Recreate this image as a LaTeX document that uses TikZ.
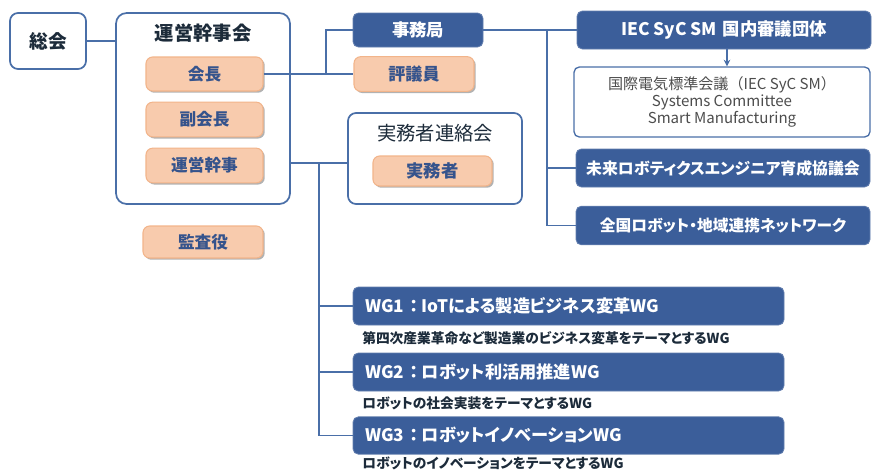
\documentclass[tikz,border=0pt]{standalone}
\usepackage{fontspec}
\newfontfamily\jp[RawFeature=+palt]{Noto Sans CJK JP}
\newfontfamily\jpw{Noto Sans CJK JP}
\usetikzlibrary{shadows,arrows.meta}
\definecolor{dblue}{HTML}{3B5E9A}
\definecolor{lblue}{HTML}{4A6FA8}
\definecolor{peach}{HTML}{F8CBAD}
\definecolor{peachline}{HTML}{F2B48A}
\definecolor{peachtxt}{HTML}{35538C}
\definecolor{titledark}{HTML}{1C2B3A}
\definecolor{graytxt}{HTML}{4D4D4D}
\tikzset{
  wbox/.style={draw=lblue, line width=1.3pt, fill=white, rounded corners=6pt, inner sep=0pt},
  pbox/.style={draw=peachline, line width=0.8pt, fill=peach, rounded corners=5pt, inner sep=0pt,
    text=peachtxt, font=\jp\bfseries\fontsize{12.5}{14}\selectfont,
    drop shadow={shadow xshift=1.3pt, shadow yshift=-1.3pt, opacity=0.3, fill=black}},
  bbox/.style={draw=dblue!80!white, line width=0.6pt, fill=dblue, rounded corners=4pt, inner sep=0pt,
    text=white, font=\jp\bfseries\fontsize{13}{15}\selectfont},
  conn/.style={draw=lblue, line width=1.2pt},
  lbl/.style={inner sep=0pt},
}
\begin{document}
\begin{tikzpicture}[x=0.75pt,y=-0.75pt]
\useasboundingbox (0,0) rectangle (872,475);
% left side
\node[wbox, minimum width=57pt, minimum height=42pt, text=titledark, font=\jp\bfseries\fontsize{14}{16}\selectfont] (soukai) at (48,41) {総会};
\node[wbox, rounded corners=8pt, minimum width=130.5pt, minimum height=143.25pt] (unei) at (203,108.5) {};
\node[lbl, text=titledark, font=\jp\bfseries\fontsize{14.5}{16}\selectfont] (ueititle) at (203,33) {運営幹事会};
\node[pbox, minimum width=87.75pt, minimum height=25.5pt] (kaicho) at (204.5,74) {会長};
\node[pbox, minimum width=87.75pt, minimum height=26pt] (fuku) at (204.5,119.5) {副会長};
\node[pbox, minimum width=87.75pt, minimum height=26pt] (kanji) at (204.5,165.5) {運営幹事};
\node[pbox, minimum width=90pt, minimum height=24pt] (kansa) at (203,242) {監査役};
% middle
\node[bbox, minimum width=97.5pt, minimum height=25.5pt] (jimu) at (418,30) {事務局};
\node[pbox, minimum width=90pt, minimum height=26pt, font=\jp\bfseries\fontsize{12.8}{14}\selectfont] (hyogi) at (414,74) {評議員};
\node[wbox, minimum width=130.5pt, minimum height=68.25pt] (renraku) at (435,158.5) {};
\node[lbl, text=titledark, font=\jp\fontsize{14.5}{16}\selectfont] (rentitle) at (435,133) {実務者連絡会};
\node[pbox, minimum width=89.25pt, minimum height=22.5pt, font=\jp\bfseries\fontsize{13}{15}\selectfont] (jitsu) at (432.5,171) {実務者};
% right
\node[bbox, minimum width=220.5pt, minimum height=28.5pt] (iec) at (724,30) {IEC SyC SM\,\,国内審議団体};
\node[draw=lblue, line width=1pt, fill=white, rounded corners=4pt, inner sep=0pt,
  minimum width=222pt, minimum height=52.5pt, align=center, text=graytxt,
  font=\jp\fontsize{11.3}{13}\selectfont] (iecw) at (722,102)
  {国際電気標準会議{\jpw （}IEC SyC SM{\jpw ）}\\Systems Committee\\Smart Manufacturing};
\node[bbox, minimum width=220.5pt, minimum height=28.5pt, font=\jp\bfseries\fontsize{11.9}{14}\selectfont] (mirai) at (723,168) {未来ロボティクスエンジニア育成協議会};
\node[bbox, minimum width=220.5pt, minimum height=29pt, font=\jp\bfseries\fontsize{11.8}{14}\selectfont] (zenkoku) at (723,225.5) {全国ロボット・地域連携ネットワーク};
% WGs
\node[bbox, minimum width=323.25pt, minimum height=28.5pt] (wg1) at (568.5,306) {};
\node[bbox, minimum width=323.25pt, minimum height=28.5pt] (wg2) at (568.5,372) {};
\node[bbox, minimum width=323.25pt, minimum height=28pt] (wg3) at (568.5,435.5) {};
\tikzset{wgt/.style={lbl, anchor=west, text=white, font=\jp\bfseries\fontsize{12.9}{15}\selectfont},
  subt/.style={lbl, anchor=west, text=titledark, font=\jp\bfseries\fontsize{10.3}{12}\selectfont}}
\node[wgt] (wg1t) at (365,306) {WG1\,\,：\,IoTによる製造ビジネス変革WG};
\node[wgt] (wg2t) at (365,372) {WG2\,\,：\,ロボット利活用推進WG};
\node[wgt] (wg3t) at (365,435.5) {WG3\,\,：\,ロボットイノベーションWG};
\node[subt] (s1) at (362,338) {第四次産業革命など製造業のビジネス変革をテーマとするWG};
\node[subt] (s2) at (362,403) {ロボットの社会実装をテーマとするWG};
\node[subt] (s3) at (362,463) {ロボットのイノベーションをテーマとするWG};
% connectors
\coordinate (j1) at (326,74);
\coordinate (j2) at (547,30);
\coordinate (j3) at (319,163);
\draw[conn] (soukai.east) -- (soukai.east -| unei.west);
\draw[conn] (kaicho.east) -- (hyogi.west);
\draw[conn] (j1) |- (jimu.west);
\draw[conn] (jimu.east) -- (iec.west);
\draw[conn] (j2) |- (zenkoku.west);
\draw[conn] (j2 |- mirai.west) -- (mirai.west);
\draw[conn, line width=1pt, -{Stealth[length=5pt,width=5pt]}] (iec.south -| 727,0) -- (iecw.north -| 727,0);
\draw[conn] (unei.east |- j3) -- (renraku.west |- j3);
\draw[conn] (j3) |- (wg3.west);
\draw[conn] (j3 |- wg1.west) -- (wg1.west);
\draw[conn] (j3 |- wg2.west) -- (wg2.west);
\end{tikzpicture}
\end{document}
